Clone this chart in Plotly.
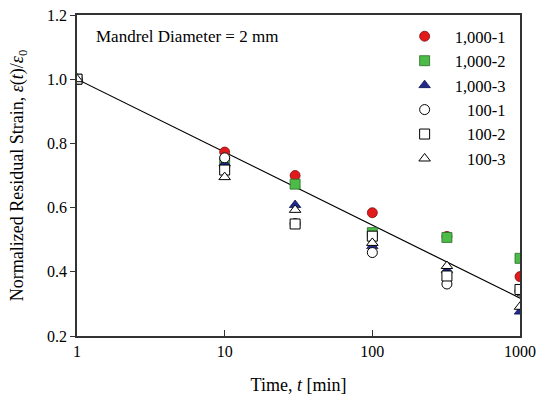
import plotly.graph_objects as go

# Data
time_min = [1, 10, 30, 100, 320, 1000]
s1000_1 = [1.0, 0.773, 0.700, 0.584, 0.510, 0.385]
s1000_2 = [1.0, 0.740, 0.673, 0.522, 0.507, 0.442]
s1000_3 = [1.0, 0.738, 0.608, 0.480, 0.405, 0.276]
s100_1 = [1.0, 0.755, 0.550, 0.460, 0.362, 0.340]
s100_2 = [1.0, 0.717, 0.549, 0.511, 0.387, 0.345]
s100_3 = [1.0, 0.695, 0.593, 0.490, 0.418, 0.291]
fit_t = [1, 1000]
fit_y = [1.0, 0.318]

series = [
    ("1,000-1", s1000_1, "circle", "#e31a1c", "#7a0f10"),
    ("1,000-2", s1000_2, "square", "#4cbb47", "#2a6b28"),
    ("1,000-3", s1000_3, "triangle-up", "#1f2a8c", "#10164d"),
    ("\u00a0\u00a0\u00a0100-1", s100_1, "circle-open", "black", "black"),
    ("\u00a0\u00a0\u00a0100-2", s100_2, "square-open", "black", "black"),
    ("\u00a0\u00a0\u00a0100-3", s100_3, "triangle-up-open", "black", "black"),
]

fig = go.Figure()
fig.add_trace(go.Scatter(x=fit_t, y=fit_y, mode="lines",
                         line=dict(color="black", width=1.2),
                         showlegend=False, hoverinfo="skip"))

for name, ys, sym, col, lc in series:
    if sym.endswith("open"):
        marker = dict(symbol=sym.replace("-open", ""), size=10, color="white",
                      line=dict(color="black", width=1))
    else:
        marker = dict(symbol=sym, size=10, color=col, line=dict(color=lc, width=0.8))
    fig.add_trace(go.Scatter(x=time_min, y=ys, mode="markers", name=name,
                             marker=marker))

font_family = "Liberation Serif"
fig.update_layout(
    width=538, height=399,
    margin=dict(l=77, r=18, t=15, b=63, autoexpand=False),
    paper_bgcolor="white", plot_bgcolor="white",
    font=dict(family=font_family, size=16, color="black"),
    showlegend=True,
    legend=dict(x=0.717, y=0.9875, xanchor="left", yanchor="top",
                bgcolor="rgba(0,0,0,0)", font=dict(size=16.5),
                itemwidth=50, tracegroupgap=0),
    annotations=[dict(text="Mandrel Diameter = 2 mm", x=0.038, y=0.934,
                      xref="paper", yref="paper", xanchor="left", yanchor="middle",
                      showarrow=False, font=dict(size=17))],
)
fig.update_xaxes(type="log", range=[0, 3], tickvals=[1, 10, 100, 1000],
                 ticktext=["1", "10", "100", "1000"], automargin=False,
                 ticks="inside", ticklen=6, tickcolor="#333",
                 showline=True, linecolor="#333", linewidth=1.5, mirror=True,
                 showgrid=False, zeroline=False,
                 title=dict(text="Time, <i>t</i> [min]", font=dict(size=18), standoff=19))
fig.update_yaxes(range=[0.2, 1.2], tickvals=[0.2, 0.4, 0.6, 0.8, 1.0, 1.2],
                 ticktext=["0.2", "0.4", "0.6", "0.8", "1.0", "1.2"], automargin=False,
                 ticks="outside", ticklen=5, tickcolor="#333",
                 showline=True, linecolor="#333", linewidth=1.5, mirror=True,
                 showgrid=False, zeroline=False,
                 title=dict(text="Normalized Residual Strain, <i>ε</i>(<i>t</i>)/<i>ε</i><sub>0</sub>",
                            font=dict(size=18), standoff=19))

fig.write_html("out.html", config={"displayModeBar": False},
               post_script="document.body.style.margin='0';document.body.style.overflow='hidden';")
